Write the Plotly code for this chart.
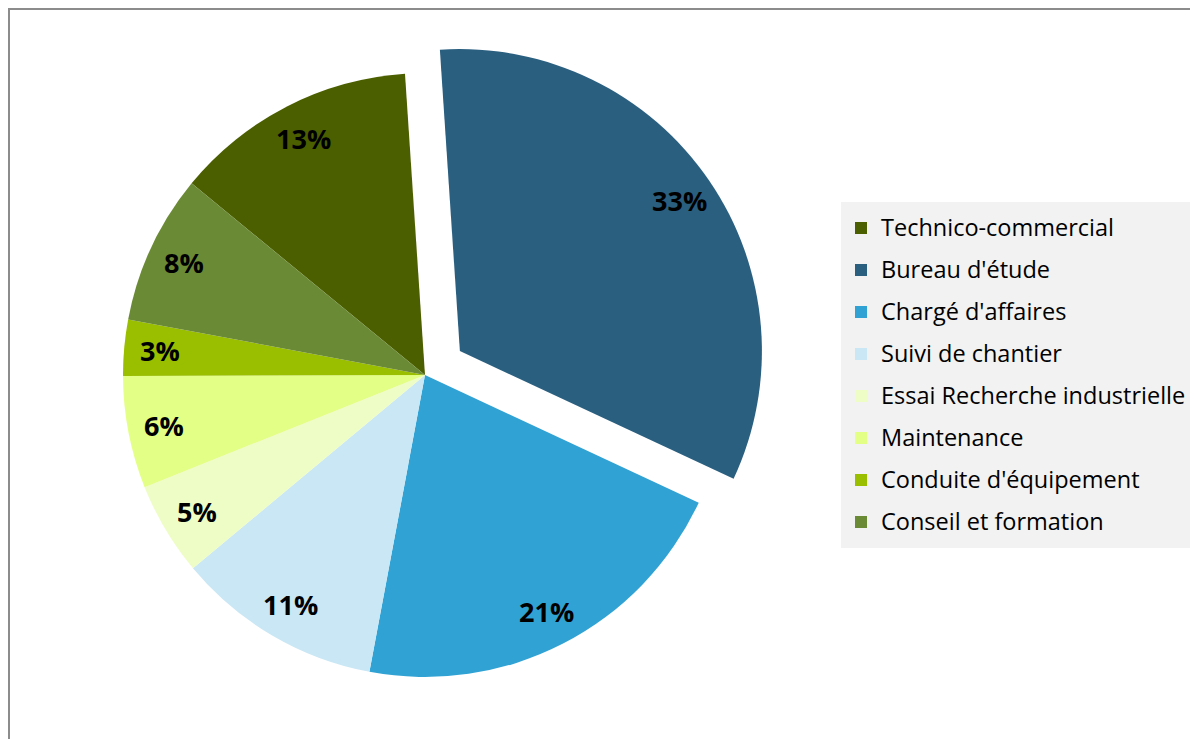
import math
import plotly.graph_objects as go

categories = ["Technico-commercial", "Bureau d'étude", "Chargé d'affaires", "Suivi de chantier",
              "Essai Recherche industrielle", "Maintenance", "Conduite d'équipement", "Conseil et formation"]
values = [13, 33, 21, 11, 5, 6, 3, 8]
colors = ["#4b5f00", "#2a5f80", "#31a2d4", "#c9e7f4", "#eefdc6", "#e4ff85", "#99bf00", "#6b8a35"]
pulls = [0, 0.14, 0, 0, 0, 0, 0, 0]

W, H = 1198, 739
ROT = -50.6            # start angle of first slice (deg, clockwise from 12 o'clock)
CX, CY = 417, 367      # pie centre in figure pixels
HALF = 344.3           # half size of the pie domain in pixels
LABEL_R = 0.88         # label distance as fraction of radius ("inside end")

legend_labels = ['<span style="font-size:23.5px; baseline-shift:4px">%s</span>' % c for c in categories]

fig = go.Figure(go.Pie(
    labels=legend_labels,
    values=values,
    sort=False,
    direction="clockwise",
    rotation=ROT,
    pull=pulls,
    marker=dict(colors=colors, line=dict(width=0)),
    textinfo="none",
    domain=dict(x=[(CX - HALF) / W, (CX + HALF) / W], y=[1 - (CY + HALF) / H, 1 - (CY - HALF) / H]),
    hoverinfo="label+percent",
))

# percentage labels placed at the inside end of each slice, derived from the data
total = sum(values)
R = HALF / (1 + max(pulls))
annotations = []
cum = 0
for v, p in zip(values, pulls):
    mid = math.radians(ROT + 360 * (cum + v / 2) / total)
    r = R * (LABEL_R + p)
    x = CX + r * math.sin(mid)
    y = CY - r * math.cos(mid)
    annotations.append(dict(
        x=x / W, y=1 - y / H, xref="paper", yref="paper",
        text="%d%%" % round(100 * v / total), showarrow=False,
        xanchor="center", yanchor="middle",
        font=dict(family="Open Sans", size=27, color="#000000", weight="bold"),
    ))
    cum += v

fig.update_layout(
    width=W, height=H,
    margin=dict(l=0, r=0, t=0, b=0),
    paper_bgcolor="white",
    annotations=annotations,
    legend=dict(
        x=833 / W, xanchor="left",
        y=1 - 194 / H, yanchor="top",
        bgcolor="#f2f2f2",
        font=dict(family="Open Sans", size=30, color="#000000"),
        traceorder="normal",
    ),
    shapes=[dict(type="rect", xref="paper", yref="paper",
                 x0=0.5 / W, x1=1.02, y0=-0.02, y1=1 - 0.5 / H,
                 line=dict(color="#8c8c8c", width=3), layer="below")],
)

fig.write_html("out.html")
